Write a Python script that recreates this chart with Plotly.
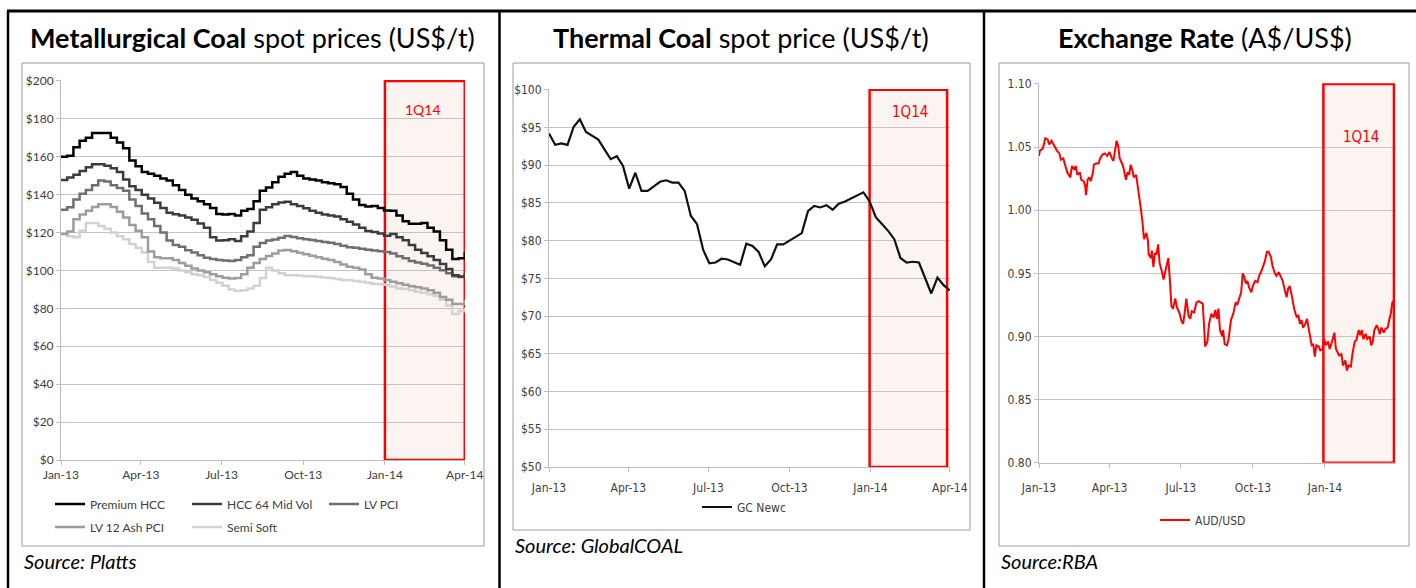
import plotly.graph_objects as go
import pandas as pd

W, H = 1416, 588

# ---------------- data ----------------
week_start = "2013-01-01"
n_weeks = 66

premium_hcc = [160, 160.5, 165, 168.5, 170, 172.5, 172.5, 172.5, 170, 167.5,
               164.5, 158, 155, 152, 151, 150, 148.5, 147.5, 145, 142.5,
               140, 138, 136.5, 135, 133, 129.8, 129.5, 129.8, 129, 131.5,
               132.5, 136.5, 142, 143.8, 146.5, 149.5, 151, 152, 150, 148.5,
               148, 147.5, 146.5, 146, 145.5, 144, 140.5, 137.5, 134.5, 133.7,
               134, 133, 131.6, 131.5, 129, 126, 124.6, 124.6, 125, 122.5,
               120.5, 116, 111, 106, 106.5, 109.5]
hcc_64_mid_vol = [147.7, 149, 150.5, 152.5, 154.5, 156, 156, 155.3, 154, 152,
                  148, 144.5, 142.5, 140, 138, 135.7, 133, 130.5, 129.7, 129,
                  128, 126.7, 124.8, 122.5, 117.5, 115.8, 116, 116.5, 115.5, 118,
                  120.5, 125, 132, 133.3, 135, 135.8, 136.3, 135, 134, 132.8,
                  131.5, 130.5, 129.5, 129, 128.5, 127, 125.7, 124.2, 122.5, 120.8,
                  120.3, 119.5, 118.3, 119.2, 117.5, 116, 113.5, 111, 109.2, 107.5,
                  105.5, 103.4, 100.8, 97.5, 96.8, 98.5]
lv_pci = [132, 133.3, 137.5, 140.5, 142.5, 145, 147.5, 147, 145, 143.5,
          142, 137.5, 134, 130, 127, 123.5, 120, 115.8, 113.5, 112.5,
          110.7, 109.5, 108, 106.7, 106, 105.5, 105.2, 105, 105.5, 107,
          108, 112.5, 114.5, 115.8, 116.3, 117.3, 118.2, 117.6, 117, 116.5,
          116.1, 115.5, 115, 114.6, 114, 113, 112.3, 112, 111.4, 111,
          110.5, 110.1, 109.7, 109, 107.5, 106.5, 105, 104.2, 103.5, 102.6,
          101.5, 100.1, 98.5, 97, 96.6, 98]
lv_12_ash_pci = [119.3, 120.5, 127, 129.5, 131.5, 133.5, 135, 135, 133.5, 131,
                 128, 124, 121, 117.5, 110, 107, 106.5, 106.5, 105.5, 104,
                 102.5, 101, 100, 99, 98, 97, 96.2, 95.8, 96, 98,
                 101.5, 104, 106, 107.7, 109, 110.5, 110.8, 110.2, 109.3, 108.5,
                 107.8, 107, 106.2, 105.5, 104.5, 103.2, 102, 101.5, 100.5, 98,
                 96.2, 95.8, 95, 94, 93.2, 92.5, 91.7, 91.2, 90.5, 89.5,
                 88.3, 86, 84.5, 82.3, 82.3, 84.5]
semi_soft = [119.5, 118, 117.5, 121, 125, 125, 123.5, 122, 120, 118,
             116.5, 114, 112, 109.5, 104.5, 101.5, 101.5, 101.5, 101, 100,
             99, 98, 97.5, 96.5, 95, 93.5, 92, 90, 89.2, 89.5,
             90.5, 92, 96, 101.5, 100, 98.5, 97.5, 97.5, 97.3, 97,
             97, 96.7, 96.3, 96, 95.5, 95, 94.8, 94.5, 94, 93.5,
             93, 92.7, 92.5, 91.5, 90.5, 90.2, 89.5, 88.8, 88.3, 87.5,
             86.7, 84.5, 81.5, 77, 78.5, 80.5]

gc_newc = [94.2, 92.7, 92.9, 92.7, 95.1, 96.1, 94.4, 93.9, 93.4, 92.1,
           90.8, 91.2, 89.9, 86.9, 89.0, 86.6, 86.6, 87.2, 87.8, 88.0,
           87.7, 87.7, 86.6, 83.3, 82.2, 78.8, 77.0, 77.1, 77.6, 77.5,
           77.1, 76.8, 79.6, 79.3, 78.5, 76.6, 77.5, 79.5, 79.5, 80.0,
           80.6, 81.0, 83.9, 84.6, 84.4, 84.7, 84.1, 84.9, 85.2, 85.6,
           86.0, 86.4, 85.2, 83.1, 82.2, 81.3, 80.2, 77.7, 77.1, 77.2,
           77.1, 75.1, 73.0, 75.1, 74.1, 73.4]

# AUD/USD: days since 2013-01-01 and rate
aud_days = [0, 1, 5, 8, 11, 13, 16, 19, 23, 26, 28, 31, 33, 36, 40, 42, 45, 47, 49, 52,
            54, 57, 59, 60, 62, 64, 66, 69, 70, 73, 76, 78, 81, 84, 87, 90, 93, 95, 97, 99,
            101, 103, 106, 108, 111, 113, 115, 117, 119, 121, 124, 126, 128, 130, 132, 134, 137, 139, 140, 143,
            144, 146, 148, 150, 152, 154, 157, 159, 161, 163, 165, 167, 169, 171, 174, 176, 179, 182, 184, 186,
            188, 191, 193, 195, 198, 201, 204, 206, 209, 211, 212, 215, 217, 220, 223, 225, 227, 229, 231, 234,
            235, 237, 240, 242, 245, 248, 251, 253, 256, 258, 260, 262, 264, 266, 268, 271, 273, 276, 279, 281,
            284, 286, 288, 291, 293, 296, 298, 301, 303, 306, 308, 311, 314, 316, 318, 320, 323, 326, 329, 331,
            333, 335, 337, 340, 342, 345, 348, 350, 352, 354, 357, 359, 362, 364, 366, 369, 371, 374, 377, 379,
            381, 383, 386, 388, 391, 393, 395, 398, 400, 403, 405, 408, 410, 412, 414, 417, 419, 422, 424, 426,
            428, 431, 433, 435, 437, 440, 442, 445, 447, 449, 451, 452]
aud_usd = [1.043, 1.047, 1.049, 1.057, 1.056, 1.052, 1.055, 1.051, 1.047, 1.045, 1.040, 1.041, 1.036, 1.030, 1.026, 1.035, 1.032, 1.035, 1.028, 1.030,
           1.024, 1.023, 1.019, 1.012, 1.024, 1.026, 1.023, 1.030, 1.036, 1.037, 1.037, 1.041, 1.044, 1.045, 1.043, 1.046, 1.041, 1.039, 1.047, 1.055,
           1.051, 1.041, 1.037, 1.033, 1.024, 1.030, 1.028, 1.036, 1.032, 1.026, 1.028, 1.020, 1.011, 1.001, 0.991, 0.977, 0.982, 0.976, 0.965, 0.962,
           0.968, 0.955, 0.966, 0.965, 0.973, 0.958, 0.951, 0.945, 0.951, 0.958, 0.962, 0.945, 0.924, 0.922, 0.930, 0.923, 0.919, 0.912, 0.910, 0.919,
           0.930, 0.916, 0.914, 0.920, 0.919, 0.927, 0.928, 0.927, 0.926, 0.905, 0.892, 0.896, 0.910, 0.918, 0.915, 0.921, 0.914, 0.922, 0.905, 0.900,
           0.905, 0.894, 0.893, 0.898, 0.913, 0.918, 0.927, 0.925, 0.930, 0.935, 0.950, 0.947, 0.942, 0.944, 0.939, 0.935, 0.940, 0.944, 0.943, 0.948,
           0.952, 0.956, 0.959, 0.967, 0.967, 0.963, 0.956, 0.950, 0.948, 0.951, 0.948, 0.944, 0.936, 0.931, 0.938, 0.940, 0.931, 0.921, 0.915, 0.917,
           0.910, 0.913, 0.907, 0.910, 0.914, 0.902, 0.893, 0.894, 0.884, 0.893, 0.892, 0.889, 0.890, 0.898, 0.893, 0.896, 0.890, 0.896, 0.903, 0.890,
           0.888, 0.885, 0.886, 0.877, 0.881, 0.873, 0.877, 0.876, 0.886, 0.896, 0.897, 0.905, 0.901, 0.905, 0.898, 0.902, 0.898, 0.900, 0.893, 0.896,
           0.905, 0.909, 0.906, 0.902, 0.907, 0.903, 0.906, 0.907, 0.913, 0.918, 0.927, 0.928]

quarter_ticks = ["2013-01-01", "2013-04-01", "2013-07-01", "2013-10-01", "2014-01-01", "2014-04-01"]
q1_start, q1_end = "2014-01-01", "2014-04-01"

# ---------------- helpers ----------------
def px(x):
    return x / W

def py(y):
    return 1 - y / H

dates = pd.date_range(week_start, periods=n_weeks, freq="7D")
aud_dates = pd.to_datetime("2013-01-01") + pd.to_timedelta(aud_days, unit="D")

TICK = "#404040"
GRID = "#c4c4c4"
AXL = "#bdbdbd"
RED = "#ff0000"
FILL = "#fbf4f1"
BODY = "Lato, 'Open Sans', sans-serif"
NARROW = "'Liberation Sans Narrow', 'DejaVu Sans Condensed', 'Arial Narrow', sans-serif"

fig = go.Figure()

met = [("Premium HCC", premium_hcc, "#000000", "legend"),
       ("HCC 64 Mid Vol", hcc_64_mid_vol, "#3c3c3c", "legend"),
       ("LV PCI", lv_pci, "#6f6f6f", "legend"),
       ("LV 12 Ash PCI", lv_12_ash_pci, "#9d9d9d", "legend2"),
       ("Semi Soft", semi_soft, "#d2d2d2", "legend2")]
names = [m[0] for m in met]
for name, vals, col, lg in reversed(met):
    fig.add_trace(go.Scatter(x=dates, y=vals, name=name, mode="lines",
                             line=dict(color=col, width=2.5, shape="hv"),
                             xaxis="x", yaxis="y", legend=lg, legendrank=names.index(name)))

fig.add_trace(go.Scatter(x=dates, y=gc_newc, name="GC Newc", mode="lines",
                         line=dict(color="#111111", width=2.2),
                         xaxis="x2", yaxis="y2", legend="legend3"))

fig.add_trace(go.Scatter(x=aud_dates, y=aud_usd, name="AUD/USD", mode="lines",
                         line=dict(color=RED, width=2),
                         xaxis="x3", yaxis="y3", legend="legend4"))

common_x = dict(type="date", tickvals=quarter_ticks, tickformat="%b-%y",
                ticks="outside", ticklen=4, tickcolor=AXL, showline=True,
                linecolor=AXL, linewidth=1, showgrid=False, zeroline=False,
                automargin=False)
common_y = dict(ticks="outside", ticklen=4, tickcolor=AXL, showline=True,
                linecolor=AXL, linewidth=1, showgrid=True, gridcolor=GRID,
                gridwidth=1, zeroline=False, automargin=False)

fig.update_layout(
    width=W, height=H, margin=dict(l=0, r=0, t=0, b=0, autoexpand=False),
    paper_bgcolor="white", plot_bgcolor="white",
    xaxis=dict(common_x, domain=[px(61), px(465)], anchor="y",
               range=["2013-01-01", "2014-04-01 06:00"],
               tickfont=dict(family=BODY, size=12, color=TICK)),
    yaxis=dict(common_y, domain=[py(460), py(80)], anchor="x", range=[0, 200.5],
               dtick=20, tickprefix="$", tickfont=dict(family=BODY, size=12, color=TICK)),
    xaxis2=dict(common_x, domain=[px(549), px(950)], anchor="y2",
                range=["2013-01-01", "2014-04-01 06:00"], ticklabelstandoff=6,
                tickfont=dict(family=NARROW, size=12, color=TICK)),
    yaxis2=dict(common_y, domain=[py(467), py(89)], anchor="x2", range=[50, 100.1],
                dtick=5, tickprefix="$", tickfont=dict(family=NARROW, size=12, color=TICK)),
    xaxis3=dict(common_x, domain=[px(1039), px(1395.5)], anchor="y3",
                tickvals=quarter_ticks[:5],
                range=["2013-01-01", "2014-04-01"], ticklabelstandoff=10,
                tickfont=dict(family=NARROW, size=12, color=TICK)),
    yaxis3=dict(common_y, domain=[py(462.7), py(83.3)], anchor="x3", range=[0.80, 1.1005],
                dtick=0.05, tickformat=".2f", tickfont=dict(family=NARROW, size=12, color=TICK)),
    legend=dict(orientation="h", x=px(50), y=py(504), xanchor="left", yanchor="middle",
                entrywidth=92, font=dict(family=BODY, size=12, color=TICK),
                bgcolor="rgba(0,0,0,0)", traceorder="normal", itemwidth=30),
    legend2=dict(orientation="h", x=px(50), y=py(527), xanchor="left", yanchor="middle",
                 entrywidth=92, font=dict(family=BODY, size=12, color=TICK),
                 bgcolor="rgba(0,0,0,0)", traceorder="normal", itemwidth=30),
    legend3=dict(orientation="h", x=px(697), y=py(507), xanchor="left", yanchor="middle",
                 font=dict(family=NARROW, size=12, color=TICK), bgcolor="rgba(0,0,0,0)"),
    legend4=dict(orientation="h", x=px(1155), y=py(520), xanchor="left", yanchor="middle",
                 font=dict(family=NARROW, size=12, color=TICK), bgcolor="rgba(0,0,0,0)"),
    showlegend=True,
)

shapes = []
# outer black frame lines
shapes.append(dict(type="line", xref="paper", yref="paper", x0=px(7), x1=1, y0=py(11), y1=py(11),
                   line=dict(color="black", width=3)))
for xv in (8, 499.5, 984):
    shapes.append(dict(type="line", xref="paper", yref="paper", x0=px(xv), x1=px(xv), y0=py(11), y1=0,
                       line=dict(color="black", width=2.5)))
# grey chart boxes
for (x0, y0, x1, y1) in [(22, 63, 484, 546), (513, 63, 970, 530), (999, 63, 1409, 546)]:
    shapes.append(dict(type="rect", xref="paper", yref="paper", x0=px(x0), x1=px(x1), y0=py(y1), y1=py(y0),
                       line=dict(color="#9a9a9a", width=1), layer="below"))
# 1Q14 highlight boxes (data coordinates)
for xr, yr, lo, hi, e0, e1 in [("x", "y", 0, 200, q1_start, q1_end),
                                ("x2", "y2", 50, 100, "2013-12-31", "2014-03-29"),
                                ("x3", "y3", 0.80, 1.10, "2013-12-30", "2014-03-30")]:
    shapes.append(dict(type="rect", xref=xr, yref=yr, x0=e0, x1=e1, y0=lo, y1=hi,
                       fillcolor=FILL, line=dict(width=0), layer="below"))
    shapes.append(dict(type="rect", xref=xr, yref=yr, x0=e0, x1=e1, y0=lo, y1=hi,
                       line=dict(color=RED, width=2.5), layer="between"))
fig.update_layout(shapes=shapes)

TITLE_FONT = dict(family="Lato, 'Open Sans', sans-serif", size=27, color="black")
ann = [
    dict(x=px(252.5), y=py(38), text="<b>Metallurgical Coal</b> spot prices (US$/t)", font=TITLE_FONT),
    dict(x=px(741.5), y=py(38), text="<b>Thermal Coal</b> spot price (US$/t)", font=TITLE_FONT),
    dict(x=px(1205), y=py(38), text="<b>Exchange Rate</b> (A$/US$)", font=TITLE_FONT),
    dict(x=px(423), y=py(109), text="1Q14", font=dict(family=BODY, size=14, color=RED)),
    dict(x=px(910), y=py(112), text="1Q14", font=dict(family=NARROW, size=15, color=RED)),
    dict(x=px(1361), y=py(137), text="1Q14", font=dict(family=NARROW, size=15, color=RED)),
]
for a in ann:
    fig.add_annotation(xref="paper", yref="paper", xanchor="center", yanchor="middle",
                       showarrow=False, **a)
for x0, y0, t in [(22, 561, "Source: Platts"), (513, 545, "Source: GlobalCOAL"), (999, 561, "Source:RBA")]:
    fig.add_annotation(xref="paper", yref="paper", x=px(x0), y=py(y0), xanchor="left", yanchor="middle",
                       showarrow=False, text="<i>" + t + "</i>",
                       font=dict(family=BODY, size=20, color="black"))

fig.write_html("out.html", config={"displayModeBar": False},
               post_script="document.body.style.margin='0px';")
